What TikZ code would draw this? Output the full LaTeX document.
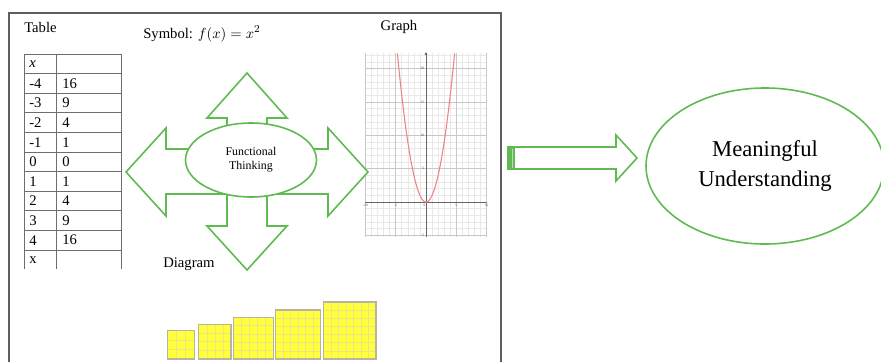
\documentclass[tikz,border=0pt]{standalone}
\usepackage{fontspec}
\setmainfont{Liberation Serif}
\usetikzlibrary{shapes.geometric,arrows.meta}
\definecolor{grn}{RGB}{96,186,82}
\definecolor{framegray}{RGB}{95,95,95}
\definecolor{tblgray}{RGB}{110,110,110}
\definecolor{gminor}{RGB}{232,232,232}
\definecolor{gmajor}{RGB}{200,200,200}
\definecolor{paracol}{RGB}{240,130,130}
\definecolor{sqyel}{RGB}{255,255,60}
\definecolor{sqgrid}{RGB}{240,228,130}
\definecolor{sqedge}{RGB}{185,180,160}
\newcommand\yelsq[5]{%
  \fill[sqyel] (#1,#3) rectangle (#2,359);
  \foreach \j in {1,...,#5} {
    \draw[sqgrid, line width=0.35pt] ({#1+(#2-#1)*\j/#4},#3) -- ({#1+(#2-#1)*\j/#4},359);
    \draw[sqgrid, line width=0.35pt] (#1,{#3+(359-#3)*\j/#4}) -- (#2,{#3+(359-#3)*\j/#4});
  }
  \draw[sqedge, line width=0.9pt] (#1,#3) rectangle (#2,359);
}
\begin{document}
\begin{tikzpicture}[x=0.75pt,y=-0.75pt,
  lbl/.style={font=\fontsize{11}{13}\selectfont, inner sep=0pt},
  cell/.style={font=\fontsize{11}{13}\selectfont, inner sep=0pt, anchor=west},
  tbl/.style={draw=tblgray, line width=0.7pt},
  grnline/.style={draw=grn, line width=1.2pt},
  tiny/.style={font=\fontsize{2.6}{3}\selectfont, inner sep=0.3pt, text=black!70}]
\useasboundingbox (0,0) rectangle (881,362);
\fill[white] (0,0) rectangle (881,362);

% frame
\draw[framegray, line width=1.1pt] (9,362) -- (9,13) -- (501,13) -- (501,362);

% titles
\node[lbl, anchor=west] (ttable) at (24,27) {Table};
\node[lbl, anchor=west] (tsymbol) at (143,34) {Symbol: $f(x) = x^2$};
\node[lbl] (tgraph) at (399,27) {Graph};
\node[lbl, anchor=west] (tdiagram) at (163,264) {Diagram};

% table
\foreach \k in {0,...,10} \draw[tbl] (24,{54+19.6*\k}) -- (121,{54+19.6*\k});
\draw[tbl] (24,54) -- (24,269);
\draw[tbl] (56,54) -- (56,269);
\draw[tbl] (121,54) -- (121,269);
\foreach \a/\b [count=\i from 0] in {{\textit{x}}/{},-4/16,-3/9,-2/4,-1/1,0/0,1/1,2/4,3/9,4/16,x/{}} {
  \node[cell] (ca\i) at (29,{54+19.6*\i+9.8}) {\a};
  \node[cell] (cb\i) at (62,{54+19.6*\i+9.8}) {\b};
}

% graph
\begin{scope}[shift={(426,202)}, x=4.545pt, y=5.0pt]
  \draw[gminor, line width=0.4pt] (-10,-5.25) grid[step=1] (10,22.3);
  \draw[gmajor, line width=0.6pt] (-10,-5.25) grid[step=5] (10,22.3);
  \draw[black!60, line width=0.6pt] (-10,0) -- (10,0);
  \draw[black!60, line width=0.6pt, -{Triangle[length=2.2pt,width=2pt]}] (0,-5.25) -- (0,22.5);
  \draw[paracol, line width=0.8pt, domain=-4.72:4.72, samples=80, smooth] plot (\x,{\x*\x});
  \foreach \u in {-10,-5,5,10} \node[tiny, anchor=north] (xl\u) at (\u,-0.3) {\u};
  \node[tiny, anchor=north east] (xl0) at (0,-0.3) {0};
  \foreach \v in {5,10,15,20,-5} \node[tiny, anchor=east] (yl\v) at (-0.2,\v) {\v};
\end{scope}

% four-way arrow
\draw[grnline, fill=white, line join=miter]
  (247,73) -- (287,118) -- (267,118) -- (267,149) -- (328,149) -- (328,128) -- (368,172)
  -- (328,216) -- (328,194) -- (267,194) -- (267,226) -- (287,226) -- (247,270)
  -- (207,226) -- (227,226) -- (227,194) -- (166,194) -- (166,216) -- (126,172)
  -- (166,128) -- (166,149) -- (227,149) -- (227,118) -- (207,118) -- cycle;
\node[ellipse, grnline, fill=white, minimum width=98.25pt, minimum height=55.5pt, inner sep=0pt,
      align=center, font=\fontsize{8.9}{10.5}\selectfont] (ft) at (251,160) {Functional\\Thinking};

% big arrow
\coordinate (bstart) at (508,158);
\coordinate (btip) at (637,158);
\draw[grnline, fill=white, line join=miter]
  (508,147) -- (616,147) -- (616,135) -- (btip) -- (616,181) -- (616,169) -- (508,169) -- cycle;
\fill[grn] (507.5,146.5) rectangle (515,169.5);
\draw[grn!45!white, line width=0.6pt] (512,148.5) -- (512,167.5);

% meaningful understanding
\node[ellipse, grnline, minimum width=178.5pt, minimum height=117pt, inner sep=0pt,
      align=center, font=\fontsize{17}{22.5}\selectfont] (mu) at (765,166) {Meaningful\\Understanding};

% diagram squares
\yelsq{167.5}{194.5}{330.8}{3}{2}
\yelsq{198.7}{231}{324.3}{4}{3}
\yelsq{233.7}{273.3}{317.3}{5}{4}
\yelsq{275.3}{320.7}{310}{6}{5}
\yelsq{323.5}{376}{302}{7}{6}
\end{tikzpicture}
\end{document}
